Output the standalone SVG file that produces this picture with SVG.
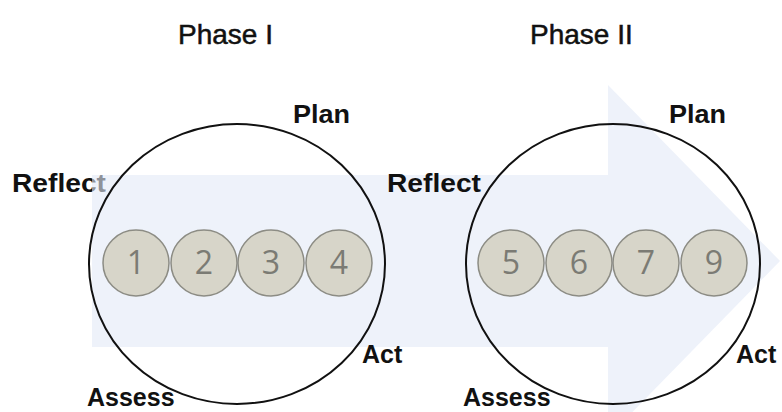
<svg xmlns="http://www.w3.org/2000/svg" width="782" height="412" viewBox="0 0 782 412">
<style>
.title{font-family:"Liberation Sans",Arial,sans-serif;font-size:28px;fill:#111;stroke:#111;stroke-width:0.5}
.lbl{font-family:"Liberation Sans",Arial,sans-serif;font-size:25px;font-weight:bold;fill:#111}
.ring{fill:none;stroke:#111;stroke-width:2}
.dot{fill:#d7d5c9;stroke:#8c8c84;stroke-width:1.5}
.num{font-family:"Open Sans","Liberation Sans",sans-serif;font-size:32px;fill:#7b7b74;text-anchor:middle}
</style>
<rect width="782" height="412" fill="#fff"/>
<g id="labels-back">
<text class="lbl" x="12" y="192" textLength="94" lengthAdjust="spacingAndGlyphs">Reflect</text>
</g>
<g id="arrow">
<path d="M92,175 H608 V85 L780,261 L608,437 V347 H92 Z" fill="#e2eaf6" fill-opacity="0.6"/>
</g>
<g id="titles">
<text class="title" x="178" y="44">Phase I</text>
<text class="title" x="530" y="44">Phase II</text>
</g>
<g id="phase1">
<ellipse class="ring" cx="237" cy="264" rx="148" ry="140"/>
<text class="lbl" x="293" y="123" textLength="57" lengthAdjust="spacingAndGlyphs">Plan</text>
<text class="lbl" x="362" y="363">Act</text>
<text class="lbl" x="87" y="406">Assess</text>
</g>
<g id="phase2">
<ellipse class="ring" cx="613" cy="264" rx="147" ry="140"/>
<text class="lbl" x="387" y="192" textLength="94" lengthAdjust="spacingAndGlyphs">Reflect</text>
<text class="lbl" x="669" y="123" textLength="57" lengthAdjust="spacingAndGlyphs">Plan</text>
<text class="lbl" x="736" y="363">Act</text>
<text class="lbl" x="463" y="406">Assess</text>
</g>
<g id="n1"><circle class="dot" cx="136" cy="263" r="33"/><text class="num" x="136" y="274">1</text></g>
<g id="n2"><circle class="dot" cx="204" cy="263" r="33"/><text class="num" x="204" y="274">2</text></g>
<g id="n3"><circle class="dot" cx="271" cy="263" r="33"/><text class="num" x="271" y="274">3</text></g>
<g id="n4"><circle class="dot" cx="339" cy="263" r="33"/><text class="num" x="339" y="274">4</text></g>
<g id="n5"><circle class="dot" cx="511" cy="263" r="33"/><text class="num" x="511" y="274">5</text></g>
<g id="n6"><circle class="dot" cx="579" cy="263" r="33"/><text class="num" x="579" y="274">6</text></g>
<g id="n7"><circle class="dot" cx="646" cy="263" r="33"/><text class="num" x="646" y="274">7</text></g>
<g id="n9"><circle class="dot" cx="714" cy="263" r="33"/><text class="num" x="714" y="274">9</text></g>
<g id="connectors"></g>
</svg>
